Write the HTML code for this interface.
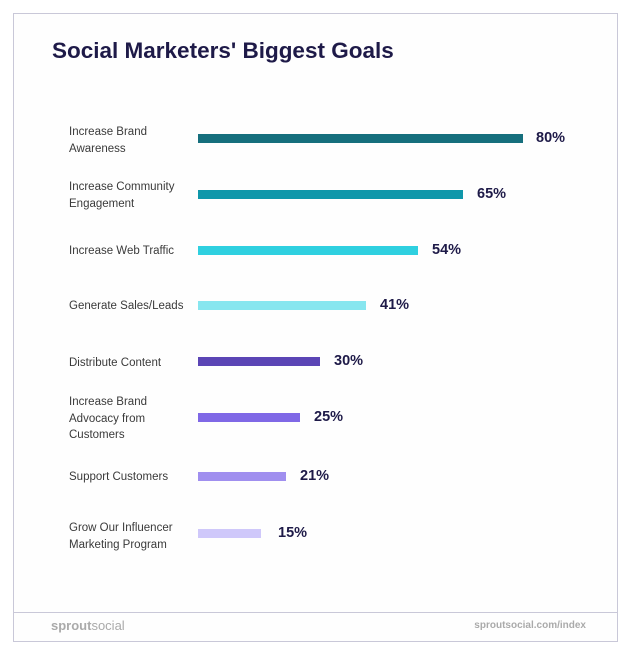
<!DOCTYPE html>
<html><head><style>
body{margin:0;width:626px;height:651px;background:#fff;font-family:"Liberation Sans",sans-serif;position:relative;overflow:hidden}
.frame{position:absolute;left:13px;top:13px;width:603px;height:627px;border:1px solid #c9c8d8;background:#fefefe}
.foot{position:absolute;left:13px;top:612px;width:604px;border-top:1px solid #c9c8d8}
.t{position:absolute;left:52px;top:38px;font-size:22.5px;font-weight:bold;color:#1e1a48;letter-spacing:0px}
.l{position:absolute;left:69px;font-size:11.5px;color:#3a3a3a;line-height:16.5px}
.b{position:absolute;left:198px;height:9px}
.v{position:absolute;font-size:14.5px;font-weight:bold;color:#1e1a48}
</style></head><body>
<div class="frame"></div><div class="foot"></div>
<div class="t">Social Marketers' Biggest Goals</div>

<div class="l" style="top:124px">Increase Brand<br>Awareness</div>
<div class="b" style="top:134px;width:325px;background:#166f7d"></div>
<div class="v" style="left:536px;top:130px">80%</div>

<div class="l" style="top:179px">Increase Community<br>Engagement</div>
<div class="b" style="top:190px;width:265px;background:#0f97aa"></div>
<div class="v" style="left:477px;top:186px">65%</div>

<div class="l" style="top:243px">Increase Web Traffic</div>
<div class="b" style="top:246px;width:220px;background:#2fd0e0"></div>
<div class="v" style="left:432px;top:242px">54%</div>

<div class="l" style="top:298px">Generate Sales/Leads</div>
<div class="b" style="top:301px;width:168px;background:#87e6ef"></div>
<div class="v" style="left:380px;top:297px">41%</div>

<div class="l" style="top:355px">Distribute Content</div>
<div class="b" style="top:357px;width:122px;background:#5b45b5"></div>
<div class="v" style="left:334px;top:353px">30%</div>

<div class="l" style="top:394px">Increase Brand<br>Advocacy from<br>Customers</div>
<div class="b" style="top:413px;width:102px;background:#7f68e6"></div>
<div class="v" style="left:314px;top:409px">25%</div>

<div class="l" style="top:469px">Support Customers</div>
<div class="b" style="top:472px;width:88px;background:#a08fef"></div>
<div class="v" style="left:300px;top:468px">21%</div>

<div class="l" style="top:520px">Grow Our Influencer<br>Marketing Program</div>
<div class="b" style="top:529px;width:63px;background:#cfc8fa"></div>
<div class="v" style="left:278px;top:525px">15%</div>

<div style="position:absolute;left:51px;top:618px;font-size:13px;color:#aaa"><b>sprout</b>social</div>
<div style="position:absolute;right:40px;top:620px;font-size:10px;font-weight:bold;color:#aaa">sproutsocial.com/index</div>
</body></html>
